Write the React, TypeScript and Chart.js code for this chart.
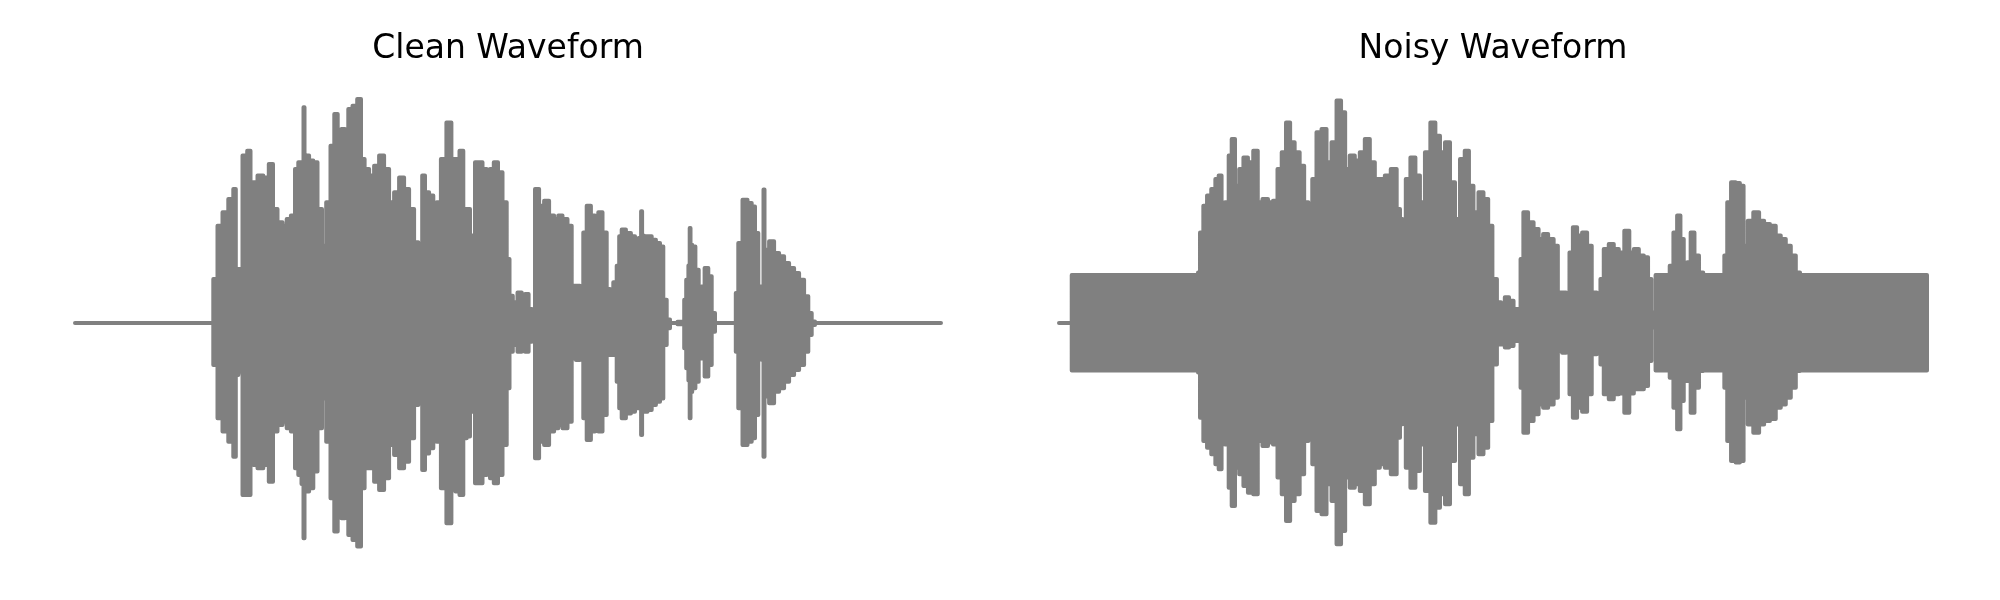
import React, { useEffect, useRef } from "react";
import { Chart, registerables } from "chart.js";

Chart.register(...registerables);

// ---- Clean waveform envelope (time in s, amplitude normalised) ----
const cleanTime = [
  0, 0.683, 0.7, 0.725, 0.75, 0.783, 0.8, 0.808, 0.825, 0.85, 0.872, 0.883, 0.9, 0.925, 0.958, 0.98,
  1.0, 1.025, 1.05, 1.067, 1.092, 1.108, 1.125, 1.14, 1.145, 1.15, 1.158, 1.183, 1.2, 1.225, 1.245,
  1.267, 1.288, 1.305, 1.322, 1.342, 1.358, 1.375, 1.4, 1.422, 1.438, 1.458, 1.483, 1.508, 1.533,
  1.558, 1.583, 1.608, 1.633, 1.658, 1.683, 1.708, 1.725, 1.73, 1.742, 1.758, 1.783, 1.8, 1.817,
  1.842, 1.872, 1.892, 1.912, 1.933, 1.95, 1.967, 1.983, 1.995, 2.005, 2.025, 2.05, 2.067, 2.083,
  2.105, 2.125, 2.15, 2.167, 2.178, 2.2, 2.225, 2.242, 2.258, 2.278, 2.292, 2.308, 2.333, 2.358,
  2.383, 2.408, 2.425, 2.45, 2.475, 2.492, 2.517, 2.533, 2.55, 2.567, 2.592, 2.608, 2.625, 2.65,
  2.667, 2.683, 2.7, 2.717, 2.725, 2.742, 2.767, 2.792, 2.808, 2.828, 2.833, 2.838, 2.85, 2.875,
  2.892, 2.917, 2.933, 2.95, 2.967, 2.983, 3.042, 3.05, 3.062, 3.072, 3.075, 3.08, 3.092, 3.112,
  3.125, 3.138, 3.158, 3.175, 3.192, 3.208, 3.3, 3.308, 3.325, 3.35, 3.375, 3.392, 3.408, 3.425,
  3.44, 3.445, 3.45, 3.458, 3.483, 3.508, 3.533, 3.558, 3.583, 3.608, 3.633, 3.658, 3.675, 3.692,
  3.708, 4.33,
];
const cleanUpper = [
  0, 0, 0.191, 0.423, 0.481, 0.539, 0.583, 0.22, 0.235, 0.728, 0.749, 0.539, 0.612, 0.641, 0.633, 0.691,
  0.496, 0.438, 0.423, 0.452, 0.467, 0.67, 0.699, 0.7, 0.938, 0.73, 0.728, 0.706, 0.699, 0.496, 0.336,
  0.525, 0.771, 0.909, 0.814, 0.843, 0.713, 0.93, 0.945, 0.974, 0.713, 0.67, 0.641, 0.684, 0.728,
  0.67, 0.525, 0.568, 0.633, 0.583, 0.496, 0.351, 0.22, 0.293, 0.641, 0.568, 0.554, 0.423, 0.525,
  0.713, 0.872, 0.713, 0.713, 0.749, 0.496, 0.496, 0.38, 0.293, 0.699, 0.699, 0.67, 0.525, 0.67,
  0.699, 0.655, 0.525, 0.278, 0.119, 0.09, 0.133, 0.075, 0.126, 0.061, 0.003, 0.583, 0.51, 0.532,
  0.467, 0.452, 0.467, 0.452, 0.423, 0.162, 0.162, 0.119, 0.394, 0.51, 0.467, 0.452, 0.481, 0.394,
  0.148, 0.133, 0.177, 0.249, 0.377, 0.406, 0.391, 0.377, 0.362, 0.37, 0.486, 0.38, 0.377, 0.377,
  0.362, 0.348, 0.333, 0.101, 0.015, 0, 0.005, 0.101, 0.188, 0.25, 0.413, 0.34, 0.333, 0.232,
  0.072, 0.159, 0.239, 0.203, 0.043, 0, 0, 0.13, 0.348, 0.536, 0.522, 0.507, 0.391, 0.159,
  0.16, 0.58, 0.32, 0.319, 0.355, 0.304, 0.29, 0.261, 0.239, 0.217, 0.188, 0.116, 0.043, 0.007,
  0, 0,
];
const cleanLower = [
  0, 0, -0.183, -0.414, -0.472, -0.516, -0.581, -0.226, -0.212, -0.748, -0.748, -0.458, -0.617, -0.632, -0.617, -0.69,
  -0.472, -0.443, -0.429, -0.458, -0.472, -0.632, -0.661, -0.7, -0.936, -0.73, -0.733, -0.719, -0.646, -0.458, -0.328,
  -0.516, -0.762, -0.907, -0.835, -0.849, -0.719, -0.922, -0.943, -0.972, -0.719, -0.632, -0.632, -0.69, -0.726,
  -0.675, -0.53, -0.574, -0.632, -0.603, -0.501, -0.357, -0.212, -0.29, -0.639, -0.567, -0.545, -0.429, -0.516,
  -0.719, -0.871, -0.719, -0.733, -0.748, -0.501, -0.494, -0.386, -0.299, -0.697, -0.697, -0.661, -0.516, -0.675,
  -0.697, -0.661, -0.53, -0.284, -0.125, -0.096, -0.125, -0.103, -0.125, -0.081, -0.038, -0.588, -0.516, -0.53,
  -0.472, -0.458, -0.443, -0.458, -0.429, -0.154, -0.161, -0.139, -0.414, -0.509, -0.472, -0.443, -0.472, -0.4,
  -0.139, -0.139, -0.139, -0.255, -0.371, -0.414, -0.393, -0.386, -0.371, -0.37, -0.487, -0.38, -0.386, -0.378,
  -0.357, -0.342, -0.328, -0.096, -0.023, 0, -0.005, -0.11, -0.197, -0.25, -0.414, -0.3, -0.284, -0.255,
  -0.081, -0.154, -0.233, -0.183, -0.038, 0, 0, -0.125, -0.371, -0.53, -0.516, -0.501, -0.4, -0.154,
  -0.16, -0.581, -0.32, -0.313, -0.349, -0.299, -0.284, -0.255, -0.226, -0.204, -0.183, -0.125, -0.052, -0.009,
  0, 0,
];

// ---- Noisy waveform envelope ----
const noisyTime = [
  0, 0.06, 0.067, 0.69, 0.697, 0.71, 0.73, 0.747, 0.772, 0.788, 0.805, 0.817, 0.838, 0.855, 0.868,
  0.888, 0.91, 0.93, 0.955, 0.983, 1.0, 1.03, 1.055, 1.08, 1.1, 1.122, 1.143, 1.163, 1.188, 1.213,
  1.233, 1.255, 1.272, 1.297, 1.322, 1.347, 1.372, 1.397, 1.417, 1.438, 1.463, 1.488, 1.513, 1.538,
  1.563, 1.588, 1.613, 1.638, 1.672, 1.697, 1.705, 1.722, 1.738, 1.768, 1.788, 1.813, 1.838, 1.867,
  1.888, 1.913, 1.938, 1.963, 1.988, 2.013, 2.035, 2.055, 2.08, 2.105, 2.13, 2.152, 2.172, 2.197,
  2.213, 2.235, 2.255, 2.28, 2.297, 2.308, 2.325, 2.355, 2.38, 2.405, 2.425, 2.455, 2.48, 2.497,
  2.522, 2.538, 2.555, 2.572, 2.597, 2.622, 2.647, 2.668, 2.697, 2.705, 2.73, 2.755, 2.78, 2.805,
  2.835, 2.855, 2.88, 2.905, 2.93, 2.947, 2.963, 2.972, 2.98, 3.038, 3.055, 3.075, 3.092, 3.108,
  3.125, 3.142, 3.16, 3.18, 3.205, 3.222, 3.313, 3.325, 3.342, 3.363, 3.388, 3.405, 3.425, 3.447,
  3.48, 3.505, 3.53, 3.563, 3.588, 3.613, 3.638, 3.663, 3.688, 3.705, 4.33,
];
const noisyUpper = [
  0, 0, 0.209, 0.209, 0.22, 0.394, 0.51, 0.554, 0.583, 0.626, 0.641, 0.38, 0.525, 0.728, 0.8,
  0.597, 0.67, 0.72, 0.699, 0.749, 0.525, 0.539, 0.525, 0.532, 0.67, 0.742, 0.872, 0.786, 0.742, 0.684,
  0.525, 0.474, 0.626, 0.829, 0.843, 0.699, 0.786, 0.967, 0.916, 0.67, 0.728, 0.706, 0.742, 0.8,
  0.699, 0.626, 0.626, 0.641, 0.67, 0.496, 0.452, 0.38, 0.626, 0.72, 0.641, 0.525, 0.742, 0.872,
  0.814, 0.742, 0.786, 0.612, 0.452, 0.713, 0.749, 0.597, 0.481, 0.568, 0.539, 0.423, 0.191, 0.09,
  0.075, 0.112, 0.097, 0.061, 0.017, 0.278, 0.481, 0.438, 0.409, 0.365, 0.387, 0.365, 0.336, 0.133,
  0.133, 0.104, 0.307, 0.416, 0.38, 0.394, 0.336, 0.133, 0.09, 0.191, 0.322, 0.343, 0.322, 0.307,
  0.401, 0.307, 0.322, 0.293, 0.286, 0.191, 0.046, 0.003, 0.209, 0.209, 0.249, 0.394, 0.467, 0.365,
  0.249, 0.264, 0.394, 0.293, 0.22, 0.209, 0.209, 0.293, 0.525, 0.612, 0.609, 0.597, 0.336, 0.445,
  0.481, 0.445, 0.43, 0.423, 0.38, 0.365, 0.336, 0.293, 0.22, 0.209, 0.209,
];
const noisyLower = [
  0, 0, -0.206, -0.206, -0.215, -0.412, -0.513, -0.542, -0.571, -0.614, -0.636, -0.368, -0.528, -0.716, -0.796,
  -0.629, -0.658, -0.709, -0.738, -0.745, -0.513, -0.535, -0.52, -0.528, -0.672, -0.745, -0.861, -0.774, -0.745, -0.658,
  -0.513, -0.47, -0.614, -0.817, -0.832, -0.701, -0.774, -0.962, -0.904, -0.672, -0.716, -0.701, -0.73, -0.788,
  -0.701, -0.629, -0.614, -0.629, -0.658, -0.499, -0.44, -0.354, -0.629, -0.716, -0.643, -0.528, -0.73, -0.868,
  -0.803, -0.745, -0.788, -0.6, -0.441, -0.701, -0.745, -0.586, -0.484, -0.571, -0.542, -0.426, -0.18, -0.093,
  -0.093, -0.107, -0.1, -0.078, -0.02, -0.281, -0.477, -0.426, -0.397, -0.354, -0.368, -0.354, -0.325, -0.122,
  -0.129, -0.107, -0.31, -0.412, -0.368, -0.386, -0.31, -0.136, -0.093, -0.18, -0.31, -0.332, -0.31, -0.306,
  -0.39, -0.306, -0.288, -0.288, -0.274, -0.165, -0.02, -0.003, -0.206, -0.206, -0.238, -0.368, -0.462, -0.339,
  -0.238, -0.252, -0.39, -0.281, -0.209, -0.206, -0.206, -0.281, -0.513, -0.6, -0.607, -0.6, -0.325, -0.441,
  -0.477, -0.441, -0.426, -0.417, -0.368, -0.354, -0.325, -0.281, -0.209, -0.206, -0.206,
];

const titles = ["Clean Waveform", "Noisy Waveform"];
const GRAY = "#808080";
const DURATION = 4.33;

type WaveProps = {
  title: string;
  time: number[];
  upper: number[];
  lower: number[];
  left: number;
  padLeft: number;
  padRight: number;
};

function Waveform({ title, time, upper, lower, left, padLeft, padRight }: WaveProps) {
  const ref = useRef<HTMLCanvasElement>(null);
  useEffect(() => {
    if (!ref.current) return;
    // closed outline: upper envelope forwards, lower envelope backwards
    const outline = [
      ...time.map((t, i) => ({ x: t, y: upper[i] })),
      ...time.map((t, i) => ({ x: t, y: lower[i] })).reverse(),
    ];
    const chart = new Chart(ref.current, {
      type: "line",
      data: {
        datasets: [
          {
            data: outline,
            borderColor: GRAY,
            backgroundColor: GRAY,
            borderWidth: 4,
            pointRadius: 0,
            pointHoverRadius: 0,
            stepped: "middle",
            borderJoinStyle: "round",
            borderCapStyle: "round",
            clip: false,
            fill: "shape",
          },
        ],
      },
      options: {
        responsive: false,
        animation: false,
        events: [],
        parsing: false,
        normalized: false,
        layout: { padding: { left: padLeft, right: padRight, top: 0, bottom: 47 } },
        plugins: {
          legend: { display: false },
          tooltip: { enabled: false },
          title: {
            display: true,
            text: title,
            color: "#000000",
            font: { family: "DejaVu Sans", size: 33, weight: "normal", lineHeight: 1.2 },
            padding: { top: 30, bottom: 23.4 },
          },
        },
        scales: {
          x: { type: "linear", display: false, min: 0, max: DURATION },
          y: { type: "linear", display: false, min: -1, max: 1 },
        },
      },
    });
    return () => chart.destroy();
  }, []);
  return (
    <canvas
      ref={ref}
      width={1000}
      height={600}
      style={{ position: "absolute", left, top: 0, width: 1000, height: 600 }}
    />
  );
}

export default function App() {
  return (
    <div
      style={{
        position: "fixed",
        left: 0,
        top: 0,
        width: 2000,
        height: 600,
        background: "#ffffff",
      }}
    >
      <Waveform title={titles[0]} time={cleanTime} upper={cleanUpper} lower={cleanLower} left={0} padLeft={75} padRight={59} />
      <Waveform title={titles[1]} time={noisyTime} upper={noisyUpper} lower={noisyLower} left={1000} padLeft={59} padRight={73} />
    </div>
  );
}
